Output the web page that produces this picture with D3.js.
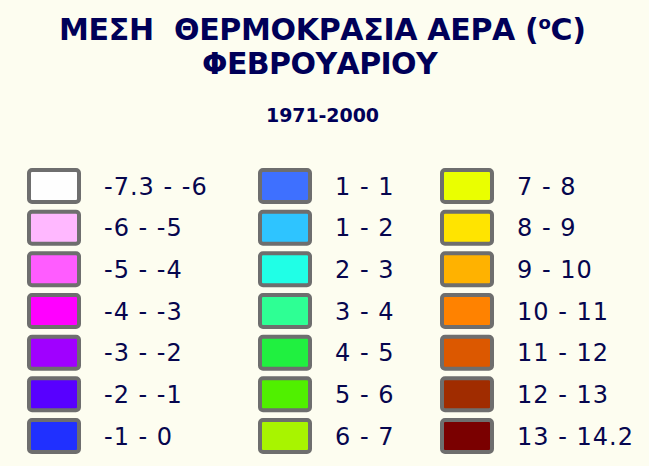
<!DOCTYPE html>
<html>
<head>
<meta charset="utf-8">
<script src="https://cdn.jsdelivr.net/npm/d3@7"></script>
<style>
  html, body { margin: 0; padding: 0; background: #FDFDF0; }
  svg { display: block; }
  text { white-space: pre; }
</style>
</head>
<body>
<svg id="chart" width="649" height="466"></svg>
<script>
// ---- data ----
const titleLine1 = "ΜΕΣΗ  ΘΕΡΜΟΚΡΑΣΙΑ ΑΕΡΑ (";
const titleLine2 = "ΦΕΒΡΟΥΑΡΙΟΥ";
const subtitle = "1971-2000";
const lowerBounds = [-7.3, -6, -5, -4, -3, -2, -1, 1, 1, 2, 3, 4, 5, 6, 7, 8, 9, 10, 11, 12, 13];
const upperBounds = [-6, -5, -4, -3, -2, -1, 0, 1, 2, 3, 4, 5, 6, 7, 8, 9, 10, 11, 12, 13, 14.2];
const classColors = [
  "#FEFEFE", "#FFB8FF", "#FF5CFF", "#FF00FF", "#A000FF", "#5800FF", "#2030FF",
  "#3E70FF", "#2EC4FF", "#20FFE6", "#2EFF94", "#20F040", "#50F000", "#A8F400",
  "#EAFF00", "#FFE400", "#FFB200", "#FF8200", "#DC5800", "#A02C00", "#7A0000"
];

const svg = d3.select("#chart");
const textColor = "#06064E";
const titleColor = "#000058";

// ---- titles ----
function fitText(sel, left, right) {
  const node = sel.node();
  const bb = node.getBBox();
  const n = node.getNumberOfChars();
  const ls = ((right - left) - bb.width) / (n - 1);
  sel.attr("letter-spacing", ls);
  const bb2 = node.getBBox();
  sel.attr("x", +sel.attr("x") + (left - bb2.x));
}

const t1 = svg.append("text")
  .attr("x", 59).attr("y", 40)
  .attr("font-family", "DejaVu Sans, Verdana, sans-serif")
  .attr("font-weight", "bold").attr("font-size", 30)
  .attr("fill", titleColor);
t1.append("tspan").text(titleLine1);
t1.append("tspan").attr("font-size", 18).attr("dy", -11).text("o");
t1.append("tspan").attr("dy", 11).text("C)");
fitText(t1, 59, 586);

const t2 = svg.append("text")
  .attr("x", 202).attr("y", 74)
  .attr("font-family", "DejaVu Sans, Verdana, sans-serif")
  .attr("font-weight", "bold").attr("font-size", 30)
  .attr("fill", titleColor)
  .text(titleLine2);
fitText(t2, 202, 439);

const t3 = svg.append("text")
  .attr("x", 266).attr("y", 122)
  .attr("font-family", "DejaVu Sans, Verdana, sans-serif")
  .attr("font-weight", "bold").attr("font-size", 19)
  .attr("fill", titleColor)
  .text(subtitle);
fitText(t3, 266, 379);

// ---- legend ----
const fmt = v => String(v);
const items = lowerBounds.map((lo, i) => ({
  label: fmt(lo) + " - " + fmt(upperBounds[i]),
  color: classColors[i],
  col: Math.floor(i / 7),
  row: i % 7
}));

const colX = d3.scaleOrdinal().domain([0, 1, 2]).range([27, 258, 440]);
const rowY = d3.scaleLinear().domain([0, 6]).range([168, 418]);

const g = svg.append("g").selectAll("g").data(items).join("g")
  .attr("transform", d => `translate(${colX(d.col)},${rowY(d.row)})`);

g.append("rect")
  .attr("x", 2).attr("y", 2)
  .attr("width", 50).attr("height", 32)
  .attr("rx", 3).attr("ry", 3)
  .attr("fill", d => d.color)
  .attr("stroke", "#6E6E6E")
  .attr("stroke-width", 4);

g.append("text")
  .attr("x", 77).attr("y", 26.5)
  .attr("font-family", "DejaVu Sans, Verdana, sans-serif")
  .attr("font-size", 24)
  .attr("letter-spacing", 1)
  .attr("fill", textColor)
  .text(d => d.label);
</script>
</body>
</html>
